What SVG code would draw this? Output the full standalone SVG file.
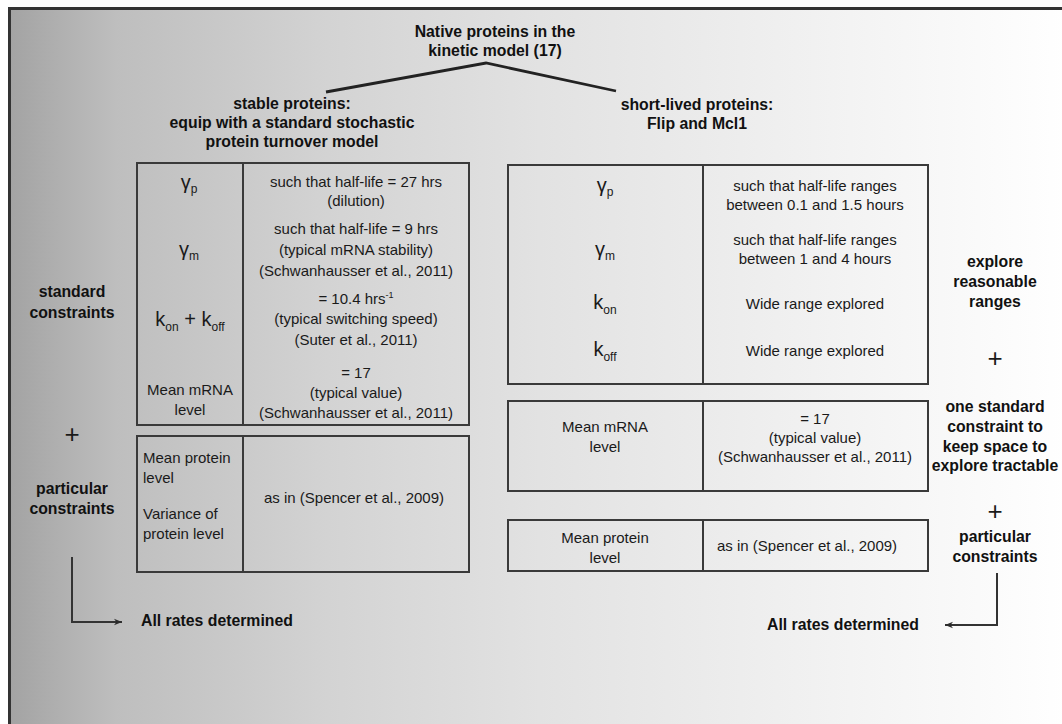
<svg xmlns="http://www.w3.org/2000/svg" width="1062" height="724" viewBox="0 0 1062 724">
<defs>
<linearGradient id="bg" x1="0" y1="0" x2="1" y2="0">
<stop offset="0" stop-color="#a3a3a3"/>
<stop offset="0.1" stop-color="#bebebe"/>
<stop offset="0.3" stop-color="#d3d3d3"/>
<stop offset="0.5" stop-color="#e2e2e2"/>
<stop offset="1" stop-color="#ffffff"/>
</linearGradient>
<marker id="ah" viewBox="0 0 10 10" refX="10" refY="5" markerWidth="10" markerHeight="8" markerUnits="userSpaceOnUse" orient="auto">
<path d="M0,1 L10,5 L0,9 L3,5 z" fill="#2b2b2b"/>
</marker>
<style>
.t{font-family:"Liberation Sans",Arial,sans-serif;font-size:15px;fill:#1a1a1a;text-anchor:middle}
.b{font-family:"Liberation Sans",Arial,sans-serif;font-size:15.8px;font-weight:bold;fill:#111;text-anchor:middle}
.l{text-anchor:start}
.box{fill:none;stroke:#3a3a3a;stroke-width:2}
.sym{font-size:20px}
.sub{font-size:12px}
.plus{font-family:"Liberation Sans",Arial,sans-serif;font-size:26px;font-weight:normal;fill:#1a1a1a;text-anchor:middle}
.conn{fill:none;stroke:#222;stroke-width:2.8}
.arr{fill:none;stroke:#333;stroke-width:2}
</style>
</defs>
<rect x="0" y="0" width="1062" height="724" fill="#fff"/>
<rect x="9.5" y="8.5" width="1060" height="720" fill="url(#bg)" stroke="#333" stroke-width="3"/>

<g id="title">
<text class="b" x="495" y="37">Native proteins in the</text>
<text class="b" x="495" y="56">kinetic model (17)</text>
</g>

<g id="stable-heading">
<text class="b" x="292" y="109">stable proteins:</text>
<text class="b" x="292" y="128">equip with a standard stochastic</text>
<text class="b" x="292" y="147">protein turnover model</text>
</g>

<g id="short-heading">
<text class="b" x="697" y="110">short-lived proteins:</text>
<text class="b" x="697" y="129">Flip and Mcl1</text>
</g>

<g id="stable-table">
<rect class="box" x="137" y="163" width="332" height="262"/>
<line class="box" x1="243" y1="163" x2="243" y2="425"/>
<text class="t sym" x="189" y="189">γ<tspan class="sub" dy="4">p</tspan></text>
<text class="t" x="356" y="187">such that half-life = 27 hrs</text>
<text class="t" x="356" y="206">(dilution)</text>
<text class="t sym" x="189" y="256">γ<tspan class="sub" dy="4">m</tspan></text>
<text class="t" x="356" y="234">such that half-life = 9 hrs</text>
<text class="t" x="356" y="255">(typical mRNA stability)</text>
<text class="t" x="356" y="276">(Schwanhausser et al., 2011)</text>
<text class="t sym" x="190" y="326">k<tspan class="sub" dy="5">on</tspan><tspan dy="-5"> + k</tspan><tspan class="sub" dy="5">off</tspan></text>
<text class="t" x="356" y="304">= 10.4 hrs<tspan font-size="9" dy="-6">-1</tspan></text>
<text class="t" x="356" y="324">(typical switching speed)</text>
<text class="t" x="356" y="345">(Suter et al., 2011)</text>
<text class="t" x="190" y="395">Mean mRNA</text>
<text class="t" x="190" y="415">level</text>
<text class="t" x="356" y="378">= 17</text>
<text class="t" x="356" y="398">(typical value)</text>
<text class="t" x="356" y="418">(Schwanhausser et al., 2011)</text>
</g>

<g id="stable-particular">
<rect class="box" x="137" y="436" width="332" height="136"/>
<line class="box" x1="243" y1="436" x2="243" y2="572"/>
<text class="t l" x="143" y="463">Mean protein</text>
<text class="t l" x="143" y="483">level</text>
<text class="t l" x="143" y="519">Variance of</text>
<text class="t l" x="143" y="539">protein level</text>
<text class="t" x="354" y="503">as in (Spencer et al., 2009)</text>
</g>

<g id="short-table">
<rect class="box" x="508" y="165" width="420" height="219"/>
<line class="box" x1="703" y1="165" x2="703" y2="384"/>
<text class="t sym" x="605" y="192">γ<tspan class="sub" dy="4">p</tspan></text>
<text class="t" x="815" y="191">such that half-life ranges</text>
<text class="t" x="815" y="210">between 0.1 and 1.5 hours</text>
<text class="t sym" x="605" y="256">γ<tspan class="sub" dy="4">m</tspan></text>
<text class="t" x="815" y="245">such that half-life ranges</text>
<text class="t" x="815" y="264">between 1 and 4 hours</text>
<text class="t sym" x="605" y="309">k<tspan class="sub" dy="5">on</tspan></text>
<text class="t" x="815" y="309">Wide range explored</text>
<text class="t sym" x="605" y="356">k<tspan class="sub" dy="5">off</tspan></text>
<text class="t" x="815" y="356">Wide range explored</text>
</g>

<g id="short-mrna">
<rect class="box" x="508" y="401" width="420" height="90"/>
<line class="box" x1="703" y1="401" x2="703" y2="491"/>
<text class="t" x="605" y="432">Mean mRNA</text>
<text class="t" x="605" y="452">level</text>
<text class="t" x="815" y="424">= 17</text>
<text class="t" x="815" y="443">(typical value)</text>
<text class="t" x="815" y="462">(Schwanhausser et al., 2011)</text>
</g>

<g id="short-protein">
<rect class="box" x="508" y="520" width="420" height="51"/>
<line class="box" x1="703" y1="520" x2="703" y2="571"/>
<text class="t" x="605" y="543">Mean protein</text>
<text class="t" x="605" y="563">level</text>
<text class="t l" x="717" y="551">as in (Spencer et al., 2009)</text>
</g>

<g id="left-labels">
<text class="b" x="72" y="297">standard</text>
<text class="b" x="72" y="318">constraints</text>
<text class="plus" x="72" y="443">+</text>
<text class="b" x="72" y="494">particular</text>
<text class="b" x="72" y="514">constraints</text>
</g>

<g id="right-labels">
<text class="b" x="995" y="267">explore</text>
<text class="b" x="995" y="287">reasonable</text>
<text class="b" x="995" y="307">ranges</text>
<text class="plus" x="995" y="367">+</text>
<text class="b" x="995" y="412">one standard</text>
<text class="b" x="995" y="432">constraint to</text>
<text class="b" x="995" y="452">keep space to</text>
<text class="b" x="995" y="471">explore tractable</text>
<text class="plus" x="995" y="520">+</text>
<text class="b" x="995" y="542">particular</text>
<text class="b" x="995" y="562">constraints</text>
</g>

<g id="results">
<text class="b l" x="141" y="626">All rates determined</text>
<text class="b" x="843" y="630">All rates determined</text>
</g>

<g id="connectors">
<polyline class="conn" points="326,92 486,63 616,91"/>
<path class="arr" d="M72,557 V622 H122" marker-end="url(#ah)"/>
<path class="arr" d="M997,573 V625 H945" marker-end="url(#ah)"/>
</g>
</svg>
